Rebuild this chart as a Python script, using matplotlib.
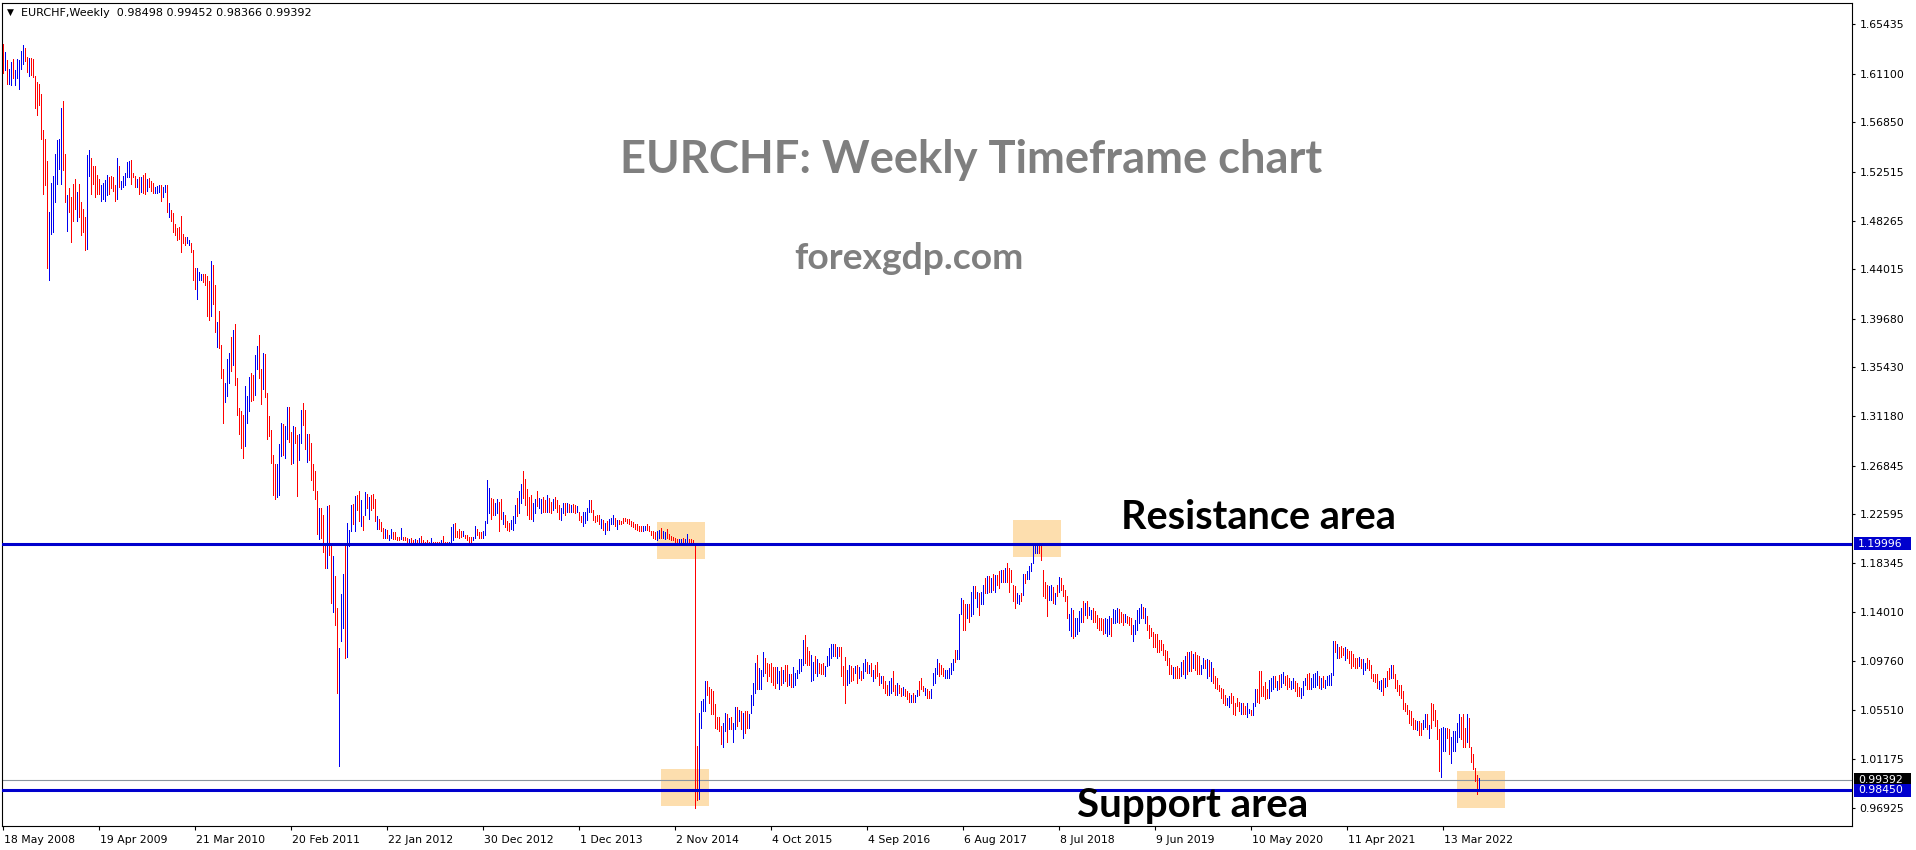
import matplotlib
matplotlib.use("Agg")
import matplotlib.pyplot as plt
from matplotlib.patches import Rectangle
import matplotlib.transforms as mtransforms
import numpy as np

# ---------------- data ----------------
symbol = "EURCHF"
timeframe = "Weekly"
last_ohlc = [0.98498, 0.99452, 0.98366, 0.99392]

# weekly highs / lows (price x 1000), one value per bar starting 18 May 2008
high_x1000 = [
    1637, 1630, 1623, 1615, 1621, 1624, 1614, 1624, 1623, 1631,
    1636, 1634, 1626, 1625, 1625, 1624, 1609, 1604, 1602, 1593,
    1562, 1554, 1535, 1490, 1516, 1522, 1541, 1553, 1554, 1581,
    1587, 1541, 1505, 1511, 1503, 1515, 1519, 1508, 1515, 1499,
    1493, 1486, 1540, 1544, 1537, 1530, 1530, 1523, 1519, 1514,
    1516, 1518, 1523, 1521, 1522, 1521, 1514, 1537, 1530, 1517,
    1522, 1524, 1534, 1535, 1536, 1524, 1522, 1519, 1521, 1521,
    1523, 1524, 1519, 1520, 1517, 1516, 1512, 1513, 1514, 1514,
    1512, 1514, 1514, 1498, 1492, 1489, 1480, 1476, 1477, 1487,
    1471, 1468, 1468, 1466, 1463, 1457, 1441, 1441, 1438, 1436,
    1436, 1436, 1434, 1430, 1447, 1444, 1426, 1394, 1404, 1374,
    1353, 1341, 1362, 1367, 1381, 1387, 1392, 1345, 1319, 1316,
    1313, 1338, 1329, 1346, 1349, 1348, 1365, 1373, 1383, 1353,
    1367, 1366, 1332, 1312, 1300, 1278, 1270, 1270, 1287, 1306,
    1305, 1303, 1320, 1320, 1298, 1303, 1302, 1295, 1296, 1317,
    1323, 1317, 1296, 1296, 1288, 1270, 1264, 1246, 1231, 1231,
    1225, 1199, 1233, 1234, 1201, 1189, 1172, 1144, 1109, 1156,
    1174, 1198, 1218, 1212, 1234, 1235, 1242, 1243, 1246, 1238,
    1224, 1245, 1244, 1241, 1243, 1244, 1239, 1224, 1222, 1219,
    1214, 1213, 1212, 1208, 1213, 1210, 1210, 1206, 1206, 1214,
    1206, 1206, 1205, 1204, 1205, 1203, 1204, 1203, 1205, 1207,
    1203, 1202, 1203, 1202, 1205, 1202, 1202, 1202, 1202, 1203,
    1207, 1202, 1202, 1202, 1215, 1217, 1218, 1211, 1213, 1211,
    1211, 1208, 1208, 1206, 1206, 1206, 1216, 1213, 1210, 1210,
    1211, 1220, 1256, 1249, 1240, 1239, 1236, 1239, 1237, 1239,
    1228, 1225, 1220, 1218, 1221, 1224, 1234, 1240, 1246, 1252,
    1264, 1257, 1248, 1241, 1243, 1236, 1239, 1246, 1240, 1239,
    1241, 1238, 1243, 1240, 1237, 1239, 1241, 1238, 1234, 1231,
    1236, 1236, 1236, 1235, 1234, 1235, 1234, 1233, 1228, 1224,
    1228, 1228, 1231, 1238, 1238, 1230, 1224, 1225, 1225, 1222,
    1221, 1218, 1220, 1222, 1223, 1225, 1223, 1221, 1221, 1220,
    1223, 1223, 1222, 1222, 1220, 1219, 1217, 1217, 1216, 1216,
    1216, 1216, 1217, 1216, 1211, 1211, 1210, 1211, 1212, 1214,
    1211, 1210, 1213, 1209, 1207, 1206, 1205, 1204, 1204, 1204,
    1205, 1204, 1209, 1204, 1204, 1203, 1201, 1023, 1052, 1063,
    1064, 1080, 1080, 1075, 1073, 1071, 1060, 1049, 1049, 1041,
    1043, 1052, 1051, 1048, 1049, 1043, 1057, 1057, 1055, 1054,
    1052, 1054, 1054, 1051, 1068, 1078, 1096, 1103, 1091, 1090,
    1105, 1100, 1096, 1095, 1096, 1092, 1092, 1092, 1089, 1092,
    1090, 1094, 1094, 1086, 1086, 1092, 1087, 1090, 1099, 1099,
    1116, 1120, 1110, 1106, 1103, 1097, 1102, 1099, 1096, 1095,
    1096, 1093, 1102, 1109, 1112, 1112, 1112, 1110, 1110, 1110,
    1093, 1101, 1090, 1094, 1093, 1091, 1093, 1094, 1092, 1089,
    1096, 1099, 1097, 1094, 1096, 1090, 1094, 1097, 1087, 1084,
    1084, 1080, 1077, 1080, 1083, 1089, 1077, 1078, 1077, 1074,
    1075, 1073, 1071, 1070, 1068, 1070, 1068, 1072, 1080, 1083,
    1076, 1074, 1073, 1071, 1073, 1087, 1091, 1099, 1096, 1094,
    1091, 1090, 1090, 1091, 1096, 1099, 1107, 1107, 1139, 1153,
    1151, 1147, 1147, 1147, 1158, 1163, 1163, 1158, 1157, 1158,
    1164, 1170, 1172, 1172, 1170, 1174, 1173, 1173, 1176, 1177,
    1177, 1179, 1183, 1179, 1177, 1164, 1163, 1157, 1155, 1157,
    1174, 1174, 1176, 1181, 1183, 1199, 1199, 1200, 1199, 1199,
    1177, 1167, 1164, 1163, 1164, 1162, 1157, 1164, 1171, 1170,
    1164, 1160, 1154, 1139, 1144, 1142, 1135, 1135, 1141, 1144,
    1150, 1148, 1150, 1145, 1142, 1144, 1141, 1138, 1135, 1135,
    1134, 1135, 1134, 1137, 1135, 1143, 1142, 1144, 1143, 1140,
    1139, 1139, 1137, 1136, 1135, 1129, 1133, 1142, 1144, 1147,
    1145, 1144, 1137, 1129, 1126, 1123, 1121, 1121, 1116, 1116,
    1112, 1107, 1106, 1100, 1094, 1092, 1092, 1093, 1091, 1097,
    1098, 1102, 1105, 1105, 1106, 1104, 1105, 1103, 1102, 1094,
    1100, 1098, 1099, 1098, 1097, 1091, 1084, 1083, 1077, 1074,
    1073, 1068, 1065, 1067, 1070, 1067, 1061, 1065, 1062, 1061,
    1061, 1058, 1061, 1056, 1055, 1061, 1073, 1073, 1089, 1089,
    1076, 1079, 1073, 1081, 1083, 1084, 1084, 1080, 1085, 1086,
    1088, 1084, 1085, 1083, 1080, 1083, 1080, 1078, 1075, 1074,
    1080, 1083, 1086, 1087, 1083, 1086, 1087, 1089, 1084, 1083,
    1084, 1081, 1084, 1085, 1087, 1115, 1115, 1112, 1110, 1111,
    1109, 1110, 1108, 1106, 1106, 1104, 1100, 1100, 1101, 1099,
    1099, 1096, 1100, 1098, 1094, 1086, 1086, 1086, 1080, 1081,
    1083, 1083, 1089, 1091, 1094, 1094, 1086, 1081, 1077, 1077,
    1071, 1061, 1059, 1055, 1054, 1048, 1046, 1045, 1045, 1043,
    1046, 1051, 1051, 1042, 1061, 1060, 1055, 1046, 1038, 1039,
    1040, 1039, 1039, 1038, 1031, 1036, 1036, 1043, 1051, 1049,
    1051, 1039, 1051, 1048, 1022, 1016, 1004, 998, 995,
]

low_x1000 = [
    1612, 1614, 1602, 1602, 1601, 1607, 1601, 1607, 1598, 1615,
    1620, 1622, 1613, 1609, 1610, 1608, 1581, 1575, 1584, 1554,
    1506, 1514, 1441, 1431, 1471, 1473, 1499, 1515, 1528, 1515,
    1527, 1499, 1474, 1490, 1464, 1482, 1493, 1482, 1486, 1470,
    1473, 1457, 1458, 1522, 1506, 1515, 1503, 1506, 1506, 1500,
    1502, 1500, 1505, 1506, 1511, 1509, 1500, 1502, 1512, 1510,
    1512, 1514, 1521, 1521, 1515, 1521, 1512, 1512, 1506, 1508,
    1507, 1506, 1509, 1512, 1509, 1507, 1507, 1507, 1508, 1500,
    1503, 1508, 1490, 1486, 1482, 1473, 1470, 1466, 1467, 1455,
    1463, 1461, 1463, 1461, 1455, 1431, 1423, 1414, 1431, 1431,
    1429, 1426, 1399, 1396, 1399, 1410, 1385, 1372, 1371, 1345,
    1306, 1324, 1329, 1341, 1351, 1356, 1339, 1313, 1296, 1284,
    1275, 1286, 1306, 1316, 1325, 1326, 1330, 1353, 1345, 1322,
    1335, 1328, 1292, 1294, 1271, 1243, 1239, 1241, 1243, 1277,
    1278, 1275, 1292, 1289, 1270, 1271, 1288, 1242, 1273, 1288,
    1304, 1283, 1272, 1273, 1256, 1247, 1239, 1209, 1204, 1205,
    1193, 1179, 1179, 1190, 1148, 1140, 1129, 1070, 1006, 1115,
    1126, 1100, 1101, 1198, 1211, 1217, 1211, 1230, 1220, 1216,
    1212, 1225, 1231, 1222, 1230, 1231, 1220, 1213, 1213, 1211,
    1205, 1205, 1205, 1203, 1205, 1204, 1204, 1203, 1203, 1204,
    1203, 1203, 1201, 1201, 1201, 1200, 1200, 1200, 1200, 1200,
    1200, 1200, 1200, 1200, 1200, 1200, 1200, 1200, 1200, 1200,
    1200, 1200, 1200, 1200, 1201, 1203, 1206, 1206, 1205, 1206,
    1207, 1205, 1203, 1202, 1202, 1203, 1205, 1208, 1205, 1205,
    1205, 1208, 1218, 1227, 1222, 1225, 1225, 1227, 1211, 1222,
    1217, 1215, 1212, 1211, 1213, 1212, 1218, 1224, 1227, 1236,
    1240, 1234, 1225, 1222, 1222, 1220, 1227, 1233, 1231, 1227,
    1228, 1228, 1228, 1228, 1227, 1230, 1231, 1228, 1222, 1221,
    1227, 1225, 1228, 1228, 1228, 1228, 1227, 1228, 1221, 1219,
    1216, 1218, 1221, 1228, 1228, 1221, 1219, 1220, 1217, 1214,
    1212, 1209, 1212, 1212, 1217, 1217, 1216, 1213, 1217, 1217,
    1218, 1220, 1218, 1217, 1216, 1215, 1213, 1212, 1211, 1211,
    1211, 1212, 1212, 1211, 1208, 1205, 1204, 1203, 1205, 1205,
    1205, 1204, 1205, 1204, 1203, 1203, 1202, 1201, 1201, 1201,
    1201, 1201, 1201, 1201, 1201, 1201, 969, 976, 977, 1039,
    1054, 1054, 1068, 1061, 1051, 1051, 1039, 1038, 1036, 1025,
    1022, 1036, 1027, 1038, 1038, 1027, 1038, 1041, 1045, 1038,
    1030, 1035, 1039, 1039, 1052, 1059, 1070, 1073, 1073, 1073,
    1084, 1087, 1080, 1084, 1079, 1077, 1074, 1078, 1073, 1077,
    1078, 1080, 1076, 1077, 1075, 1075, 1077, 1083, 1087, 1089,
    1094, 1096, 1094, 1094, 1080, 1081, 1087, 1084, 1087, 1086,
    1086, 1084, 1093, 1094, 1100, 1102, 1102, 1100, 1102, 1084,
    1077, 1061, 1077, 1078, 1080, 1081, 1087, 1078, 1083, 1081,
    1083, 1089, 1087, 1087, 1084, 1080, 1083, 1084, 1077, 1078,
    1074, 1070, 1068, 1068, 1070, 1071, 1068, 1068, 1070, 1067,
    1068, 1067, 1064, 1062, 1062, 1062, 1062, 1067, 1068, 1073,
    1071, 1068, 1065, 1065, 1065, 1077, 1078, 1086, 1084, 1086,
    1084, 1083, 1083, 1083, 1086, 1090, 1097, 1099, 1099, 1139,
    1125, 1125, 1135, 1132, 1137, 1139, 1153, 1145, 1138, 1147,
    1147, 1157, 1157, 1158, 1158, 1160, 1158, 1164, 1161, 1167,
    1167, 1167, 1167, 1158, 1167, 1150, 1144, 1148, 1147, 1150,
    1155, 1166, 1169, 1169, 1176, 1183, 1192, 1192, 1192, 1186,
    1154, 1153, 1137, 1151, 1151, 1148, 1147, 1154, 1158, 1160,
    1154, 1150, 1135, 1125, 1119, 1118, 1119, 1121, 1124, 1132,
    1132, 1138, 1135, 1138, 1134, 1132, 1132, 1126, 1125, 1125,
    1121, 1122, 1119, 1121, 1119, 1131, 1131, 1132, 1131, 1132,
    1129, 1132, 1131, 1129, 1121, 1115, 1121, 1125, 1131, 1135,
    1135, 1131, 1125, 1118, 1119, 1110, 1110, 1105, 1105, 1107,
    1103, 1098, 1094, 1086, 1086, 1083, 1083, 1083, 1083, 1084,
    1086, 1083, 1086, 1089, 1089, 1091, 1090, 1086, 1086, 1086,
    1091, 1091, 1083, 1084, 1080, 1078, 1074, 1073, 1071, 1065,
    1061, 1059, 1059, 1057, 1061, 1051, 1050, 1058, 1054, 1051,
    1051, 1051, 1049, 1052, 1050, 1050, 1058, 1062, 1061, 1067,
    1067, 1064, 1065, 1065, 1071, 1073, 1075, 1072, 1073, 1075,
    1078, 1077, 1073, 1075, 1073, 1074, 1071, 1067, 1067, 1065,
    1068, 1077, 1073, 1073, 1073, 1075, 1075, 1077, 1074, 1073,
    1075, 1074, 1077, 1077, 1077, 1085, 1105, 1100, 1100, 1101,
    1103, 1098, 1100, 1096, 1091, 1093, 1091, 1091, 1093, 1091,
    1086, 1090, 1091, 1090, 1083, 1080, 1079, 1074, 1073, 1071,
    1068, 1075, 1076, 1082, 1083, 1083, 1074, 1071, 1068, 1065,
    1056, 1054, 1051, 1043, 1042, 1038, 1038, 1037, 1033, 1033,
    1038, 1040, 1038, 1030, 1039, 1046, 1041, 1029, 1001, 996,
    1019, 1019, 1030, 1016, 1008, 1019, 1019, 1027, 1031, 1029,
    1022, 1022, 1027, 1022, 1009, 1003, 993, 981, 984,
]

# bar direction: u = close above open (blue), d = close below open (red)
direction = (
    "duduuduuuu" "uddudddddd" "ddduuuuuuu" "dduddddudd" "dduudddddu"
    "uuuddddudu" "uuuudddudu" "dduddduuud" "uududddddd" "dduuddduuu"
    "dddduddudd" "duuududddd" "duuudduudd" "udddddduuu" "duuddudduu"
    "ddudddddud" "dduddudduu" "uduuududdu" "dududddudd" "duduuddddu"
    "ddduddudud" "dddduddddu" "ddduuudddd" "udddduuddd" "uuuudduudd"
    "uddduuuduu" "ddddduuduu" "dduddudddu" "udududdudd" "uuuudddddu"
    "duduuududd" "dddddddddd" "uuddddduud" "uudddddduu" "duuddddduu"
    "uudddddddd" "uududuudud" "udduuuuduu" "udddddduud" "udduduuuuu"
    "uddduududd" "duuuuududd" "dduuddudud" "uudududddu" "ddduuddudd"
    "uddduduudd" "dudduuuudd" "duuuuuduuu" "dduduududu" "ududududdu"
    "duddddduud" "uduuuuuudd" "ddduududud" "ddduuduuuu" "duduuddddd"
    "duuuduuudd" "duddduuuuu" "dudddddddd" "dddddudddu" "dudududddu"
    "udududdddd" "dduudddddu" "dduuduuddd" "ddduuududu" "uddduudddu"
    "uudduuuudu" "duuuuududd" "duddddddud" "uudddddduu" "dudduddddd"
    "dddddddudd" "uududddddu" "uudduuuuud" "ddudddddu"
)

date_labels = ["18 May 2008", "19 Apr 2009", "21 Mar 2010", "20 Feb 2011",
               "22 Jan 2012", "30 Dec 2012", "1 Dec 2013", "2 Nov 2014",
               "4 Oct 2015", "4 Sep 2016", "6 Aug 2017", "8 Jul 2018",
               "9 Jun 2019", "10 May 2020", "11 Apr 2021", "13 Mar 2022"]
bars_per_label = 48

price_ticks = [1.65435, 1.61100, 1.56850, 1.52515, 1.48265, 1.44015, 1.39680,
               1.35430, 1.31180, 1.26845, 1.22595, 1.18345, 1.14010, 1.09760,
               1.05510, 1.01175, 0.96925]

resistance_level = 1.19996
support_level = 0.98450
last_price = 0.99392

# highlight zones: (centre bar index, centre price)
zone_bars = [339, 341, 517, 739]
zone_prices = [1.2029, 0.9869, 1.2047, 0.9856]

title_text = "EURCHF: Weekly Timeframe chart"
site_text = "forexgdp.com"
resistance_text = "Resistance area"
support_text = "Support area"

assert len(high_x1000) == len(low_x1000) == len(direction), (
    len(high_x1000), len(low_x1000), len(direction))

# ---------------- figure ----------------
W, H, DPI = 1916, 850, 100
fig = plt.figure(figsize=(W / DPI, H / DPI), dpi=DPI)
fig.patch.set_facecolor("white")

L, R, T, B = 2, 1852, 3, 826          # plot frame in pixels (y from top)
ax = fig.add_axes([L / W, (H - B) / H, (R - L) / W, (B - T) / H])
ax.set_facecolor("white")
YMIN, YMAX = 0.95326, 1.67298
ax.set_xlim(-0.5, 924.5)
ax.set_ylim(YMIN, YMAX)

hi = np.array(high_x1000) / 1000.0
lo = np.array(low_x1000) / 1000.0
idx = np.arange(len(hi))
up = np.array([c == "u" for c in direction])

BLUE_BAR = "#0000F0"
RED_BAR = "#FF0000"
ax.vlines(idx[up], lo[up], hi[up], colors=BLUE_BAR, linewidth=0.7,
          antialiased=False, zorder=3)
ax.vlines(idx[~up], lo[~up], hi[~up], colors=RED_BAR, linewidth=0.7,
          antialiased=False, zorder=3)

# highlight zones
for zb, zp in zip(zone_bars, zone_prices):
    ax.add_patch(Rectangle((zb - 12, zp - 0.01618), 24, 0.03236,
                           facecolor="#FDDEAE", edgecolor="none", zorder=1))

LINE_BLUE = "#0000CD"
ax.axhline(resistance_level, color=LINE_BLUE, linewidth=2.2, zorder=4)
ax.axhline(support_level, color=LINE_BLUE, linewidth=2.2, zorder=4)
ax.axhline(last_price, color="#8A949E", linewidth=0.8, zorder=2)

for s in ax.spines.values():
    s.set_color("black")
    s.set_linewidth(0.8)

LABEL_FS = 7.8
ax.yaxis.tick_right()
ax.set_yticks(price_ticks)
ax.set_yticklabels([f"{p:.5f}" for p in price_ticks])
ax.tick_params(axis="y", direction="out", length=2.5, width=0.8, pad=3,
               labelsize=LABEL_FS, colors="black")

ax.set_xticks([i * bars_per_label for i in range(len(date_labels))])
ax.set_xticklabels(date_labels, ha="left")
ax.tick_params(axis="x", direction="out", length=3, width=0.8, pad=3.2,
               labelsize=LABEL_FS, colors="black")
shift = mtransforms.ScaledTranslation(1 / DPI, 0, fig.dpi_scale_trans)
for lbl in ax.get_xticklabels():
    lbl.set_transform(lbl.get_transform() + shift)


def py(p):
    """display y (pixels from bottom) of a price"""
    return (H - B) + (p - YMIN) / (YMAX - YMIN) * (B - T)


# highlighted price labels on the right scale
for p, bg in [(resistance_level, LINE_BLUE), (last_price, "black"),
              (support_level, LINE_BLUE)]:
    yc = py(p)
    fig.patches.append(Rectangle((1854 / W, (yc - 6.5) / H), 57 / W, 13 / H,
                                 transform=fig.transFigure, facecolor=bg,
                                 edgecolor="none", zorder=2))
    fig.text(1858 / W, yc / H, f"{p:.5f}", color="white", fontsize=LABEL_FS,
             va="center", ha="left", zorder=3)

# header
fig.text(7 / W, 1 - 12.5 / H, "\u25BC", fontsize=6.5, va="center", ha="left",
         color="black")
hdr = fig.text(21 / W, 1 - 12.7 / H,
               f"{symbol},{timeframe}  " + " ".join(f"{v:.5f}" for v in last_ohlc),
               fontsize=LABEL_FS, va="center", ha="left", color="black")

# annotations
t_title = fig.text(971 / W, 1 - 173 / H, title_text, ha="center", va="baseline",
                   family="Lato", fontweight="bold", color="#7F7F7F", fontsize=36)
t_site = fig.text(909 / W, 1 - 269 / H, site_text, ha="center", va="baseline",
                  family="Lato", fontweight="bold", color="#7F7F7F", fontsize=22)
t_res = fig.text(1258.5 / W, 1 - 529 / H, resistance_text, ha="center",
                 va="baseline", family="Lato", fontweight="bold", color="black",
                 fontsize=24, zorder=5)
t_sup = fig.text(1192.5 / W, 1 - 817 / H, support_text, ha="center",
                 va="baseline", family="Lato", fontweight="bold", color="black",
                 fontsize=24, zorder=5)

fig.canvas.draw()
renderer = fig.canvas.get_renderer()


def fit(t, target_w):
    for _ in range(3):
        w = t.get_window_extent(renderer).width
        if w > 0:
            t.set_fontsize(t.get_fontsize() * target_w / w)


fit(t_title, 702)
fit(t_site, 229)
fit(t_res, 275)
fit(t_sup, 230)
fit(hdr, 291)

fig.savefig("out.png", dpi=DPI, facecolor="white")
